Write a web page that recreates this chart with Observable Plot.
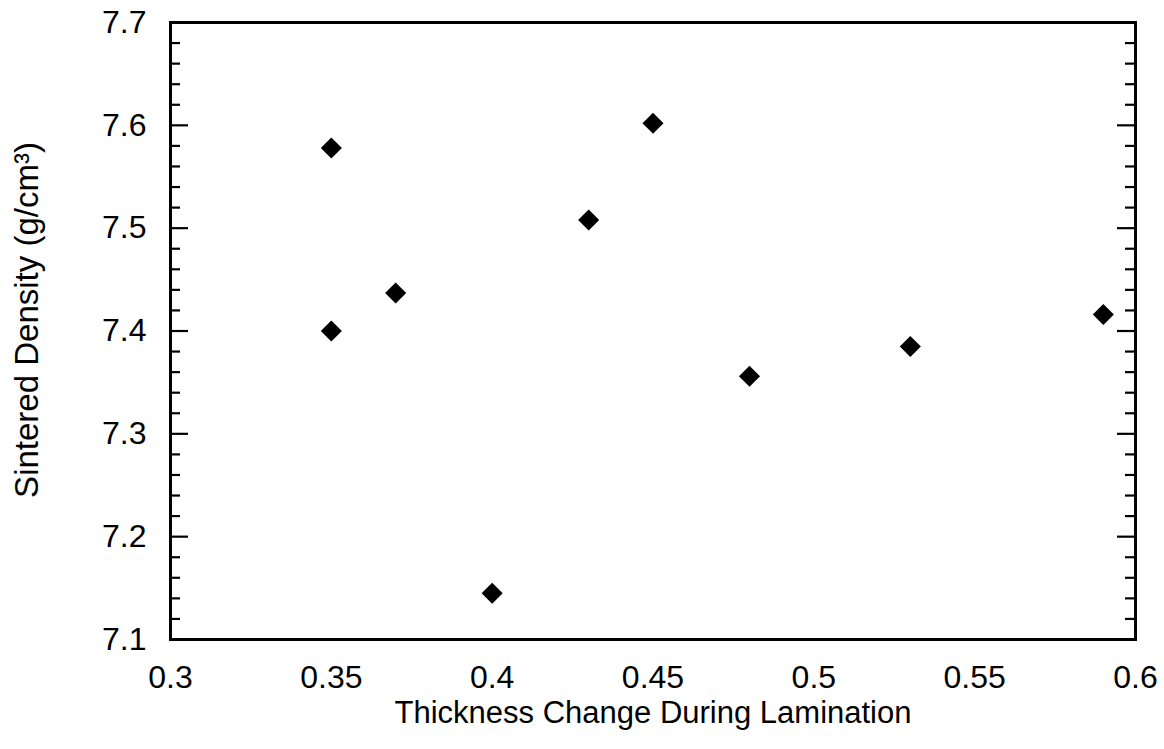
<!DOCTYPE html>
<html>
<head>
<meta charset="utf-8">
<script src="https://cdn.jsdelivr.net/npm/d3@7"></script>
<script src="https://cdn.jsdelivr.net/npm/@observablehq/plot@0.6"></script>
<style>
  html, body { margin: 0; padding: 0; background: #fff; }
  #chart svg { display: block; }
</style>
</head>
<body>
<div id="chart"></div>
<script>
// Data
const thicknessChange = [0.35, 0.35, 0.37, 0.40, 0.43, 0.45, 0.48, 0.53, 0.59];
const sinteredDensity = [7.578, 7.400, 7.437, 7.145, 7.508, 7.602, 7.356, 7.385, 7.416];

const xTicks = [0.3, 0.35, 0.4, 0.45, 0.5, 0.55, 0.6];
const xTickLabels = ["0.3", "0.35", "0.4", "0.45", "0.5", "0.55", "0.6"];
const yTicks = [7.1, 7.2, 7.3, 7.4, 7.5, 7.6, 7.7];
const yTickLabels = ["7.1", "7.2", "7.3", "7.4", "7.5", "7.6", "7.7"];
const yMinorTicks = d3.range(356, 385).filter(i => i % 5 !== 0).map(i => i / 50);

const xLabel = "Thickness Change During Lamination";
const yLabel = "Sintered Density (g/cm³)";

const points = thicknessChange.map((x, i) => ({x, y: sinteredDensity[i]}));

const W = 1164, H = 749;
const mL = 170, mR = 29, mT = 22, mB = 110;
const plotW = W - mL - mR;

const chart = Plot.plot({
  width: W,
  height: H,
  marginLeft: mL,
  marginRight: mR,
  marginTop: mT,
  marginBottom: mB,
  style: {fontFamily: "'Liberation Sans', Arial, Helvetica, sans-serif", fontSize: "32px", color: "#000", background: "#fff"},
  x: {domain: [0.3, 0.6]},
  y: {domain: [7.1, 7.7]},
  marks: [
    // inward tick marks on left and right
    Plot.tickY(yTicks, {y: d => d, insetRight: plotW - 18, stroke: "#000", strokeWidth: 2.2}),
    Plot.tickY(yTicks, {y: d => d, insetLeft: plotW - 18, stroke: "#000", strokeWidth: 2.2}),
    Plot.tickY(yMinorTicks, {y: d => d, insetRight: plotW - 10, stroke: "#000", strokeWidth: 2.2}),
    Plot.tickY(yMinorTicks, {y: d => d, insetLeft: plotW - 10, stroke: "#000", strokeWidth: 2.2}),
    Plot.frame({stroke: "#000", strokeWidth: 3}),
    Plot.axisX({ticks: xTicks, tickFormat: (d) => xTickLabels[xTicks.indexOf(d)], tickSize: 0, tickPadding: 26, label: null, fontSize: 32}),
    Plot.axisY({ticks: yTicks, tickFormat: (d) => yTickLabels[yTicks.indexOf(d)], tickSize: 0, tickPadding: 24, label: null, fontSize: 32}),
    Plot.dot(points, {x: "x", y: "y", symbol: "diamond2", r: 9.5, fill: "#000", stroke: "none"}),
    Plot.text([xLabel], {frameAnchor: "bottom", textAnchor: "middle", dy: 83, lineAnchor: "bottom", fontSize: 31, fill: "#000"}),
    Plot.text([yLabel], {frameAnchor: "left", textAnchor: "middle", rotate: -90, dx: -143, dy: -11, lineAnchor: "middle", fontSize: 33, fill: "#000"})
  ]
});
document.getElementById("chart").appendChild(chart);
</script>
</body>
</html>
